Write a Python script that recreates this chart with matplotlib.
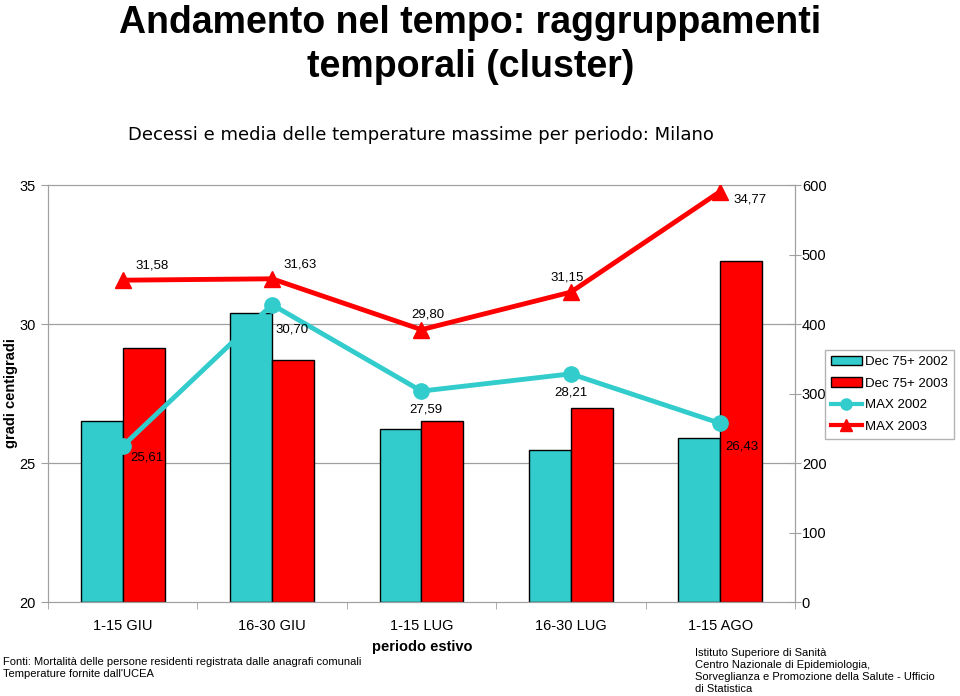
import numpy as np
import matplotlib
matplotlib.use("Agg")
import matplotlib.pyplot as plt
from matplotlib.lines import Line2D
from matplotlib.patches import Patch

plt.rcParams["font.family"] = ["Liberation Sans", "DejaVu Sans"]

# ─── Dati ────────────────────────────────────────────────────────────────────
periodi  = ["1-15 GIU", "16-30 GIU", "1-15 LUG", "16-30 LUG", "1-15 AGO"]
dec_2002 = [260, 416, 249, 219, 236]      # decessi 75+ (asse destro)
dec_2003 = [365, 348, 260, 279, 491]
max_2002 = [25.61, 30.70, 27.59, 28.21, 26.43]   # temperature (asse sinistro)
max_2003 = [31.58, 31.63, 29.80, 31.15, 34.77]

CYAN = "#33CCCC"
RED  = "#FF0000"
GRAY = "#A0A0A0"

# spostamenti etichette (pixel)
off_2002 = [(24, -11), (20, -25), (4, -18), (0, -19), (22, -23)]
off_2003 = [(29, 15), (28, 14), (6, 15), (-4, 15), (30, -8)]

fig = plt.figure(figsize=(9.6, 6.96), dpi=100)
ax_bar = fig.add_axes([0.05, 0.135, 0.778, 0.599])
ax_lin = ax_bar.twinx()

x = np.arange(len(periodi))
w = 0.28

# ── griglia (25 e 30 gradi = 200 e 400)
for gv in (200, 400):
    ax_bar.axhline(gv, color=GRAY, lw=0.9, zorder=0)

ax_bar.bar(x - w / 2, dec_2002, w, color=CYAN, edgecolor="black", lw=1.0, zorder=2)
ax_bar.bar(x + w / 2, dec_2003, w, color=RED, edgecolor="black", lw=1.0, zorder=2)
ax_bar.set_ylim(0, 600)
ax_bar.set_xlim(-0.5, len(periodi) - 0.5)
ax_bar.yaxis.tick_right()
ax_bar.set_yticks(range(0, 601, 100))
ax_bar.tick_params(axis="y", direction="inout", length=8, color=GRAY,
                   labelsize=10.5, pad=1)

ax_bar.set_xticks(x)
ax_bar.set_xticklabels(periodi, fontsize=10.5)
ax_bar.set_xticks(np.arange(-0.5, len(periodi)), minor=True)
ax_bar.tick_params(axis="x", which="major", length=0, pad=12)
ax_bar.tick_params(axis="x", which="minor", length=5, color=GRAY)

for sp in ax_bar.spines.values():
    sp.set_color(GRAY)
for sp in ax_lin.spines.values():
    sp.set_color(GRAY)

# ── linee temperature
ax_lin.plot(x, max_2002, color=CYAN, lw=3.5, marker="o", ms=11, zorder=3)
ax_lin.plot(x, max_2003, color=RED, lw=3.5, marker="^", ms=12, zorder=3)
ax_lin.set_ylim(20, 35)
ax_lin.yaxis.tick_left()
ax_lin.set_yticks([20, 25, 30, 35])
ax_lin.tick_params(axis="y", direction="out", length=5, color=GRAY,
                   labelsize=10.5, pad=4)

for xi, v, o in zip(x, max_2002, off_2002):
    ax_lin.annotate(f"{v:.2f}".replace(".", ","), (xi, v), xytext=o,
                    textcoords="offset pixels", ha="center", va="center",
                    fontsize=9.5, zorder=5)
for xi, v, o in zip(x, max_2003, off_2003):
    ax_lin.annotate(f"{v:.2f}".replace(".", ","), (xi, v), xytext=o,
                    textcoords="offset pixels", ha="center", va="center",
                    fontsize=9.5, zorder=5)

# ── legenda
handles = [
    Patch(facecolor=CYAN, edgecolor="black", label="Dec 75+ 2002"),
    Patch(facecolor=RED, edgecolor="black", label="Dec 75+ 2003"),
    Line2D([], [], color=CYAN, lw=3, marker="o", ms=8, label="MAX 2002"),
    Line2D([], [], color=RED, lw=3, marker="^", ms=9, label="MAX 2003"),
]
leg = fig.legend(handles=handles, loc="upper left", bbox_to_anchor=(0.859, 0.497),
                 fontsize=9.5, frameon=True, fancybox=False, edgecolor=GRAY,
                 handlelength=2.4, handletextpad=0.2, labelspacing=0.7,
                 borderpad=0.45, borderaxespad=0)
leg.get_frame().set_linewidth(1.0)

# ── testi
fig.text(0.49, 0.993, "Andamento nel tempo: raggruppamenti\ntemporali (cluster)",
         ha="center", va="top", fontsize=27, fontweight="bold",
         family=["Liberation Sans Narrow", "Liberation Sans", "DejaVu Sans"],
         linespacing=1.3)
fig.text(0.438, 0.806, "Decessi e media delle temperature massime per periodo: Milano",
         ha="center", va="center", fontsize=13, family=["DejaVu Sans"])
fig.text(0.011, 0.435, "gradi centigradi", ha="center", va="center",
         rotation=90, fontsize=10.5, fontweight="bold")
fig.text(0.44, 0.071, "periodo estivo", ha="center", va="center",
         fontsize=10.5, fontweight="bold")
fig.text(0.003, 0.040,
         "Fonti: Mortalità delle persone residenti registrata dalle anagrafi comunali\n"
         "Temperature fornite dall'UCEA",
         ha="left", va="center", fontsize=8, linespacing=1.2)
fig.text(0.724, 0.069,
         "Istituto Superiore di Sanità\n"
         "Centro Nazionale di Epidemiologia,\n"
         "Sorveglianza e Promozione della Salute - Ufficio\n"
         "di Statistica",
         ha="left", va="top", fontsize=8, linespacing=1.25)

fig.savefig("out.png", dpi=100)
